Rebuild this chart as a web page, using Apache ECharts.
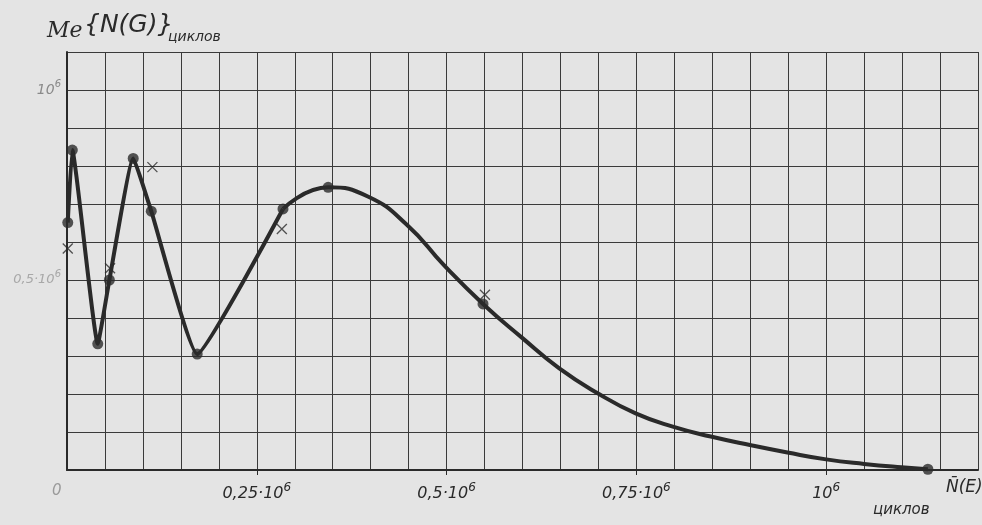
<!DOCTYPE html>
<html><head><meta charset="utf-8">
<script src="https://cdn.jsdelivr.net/npm/echarts@6/dist/echarts.min.js"></script>
<style>html,body{margin:0;padding:0;background:#e4e4e4;overflow:hidden;width:982px;height:525px;}#c{width:982px;height:525px;}</style>
</head><body><div id="c"></div>
<script>
// values in units of 10^6 cycles
const circleX = [0.001, 0.007, 0.0405, 0.0558, 0.0872, 0.111, 0.1715, 0.2845, 0.344, 0.548, 1.134];
const circleY = [0.651, 0.842, 0.332, 0.500, 0.820, 0.681, 0.305, 0.687, 0.744, 0.437, 0.002];
const crossX = [0.001, 0.0567, 0.1125, 0.283, 0.5505];
const crossY = [0.583, 0.531, 0.797, 0.634, 0.461];
// curve: steep zig-zag part, then smooth tail
const zigX = [0.001, 0.007, 0.0405, 0.0558, 0.0872, 0.111, 0.1715, 0.2845];
const zigY = [0.651, 0.842, 0.332, 0.500, 0.820, 0.681, 0.305, 0.687];
const tailX = [0.2845, 0.344, 0.397, 0.448, 0.4965, 0.548, 0.600, 0.648, 0.699, 0.749, 0.798, 0.848, 0.901, 0.949, 1.0, 1.05, 1.099, 1.134];
const tailY = [0.687, 0.744, 0.719, 0.645, 0.539, 0.437, 0.347, 0.268, 0.202, 0.149, 0.114, 0.088, 0.065, 0.046, 0.028, 0.016, 0.007, 0.002];
const xTickLabels = {25: '0,25·10', 50: '0,5·10', 75: '0,75·10', 100: '10'};
const yTickLabels = {50: '0,5·10', 100: '10'};

const zip = (a, b) => a.map((v, i) => [v, b[i]]);
const ink = '#2a2a2a';
const chart = echarts.init(document.getElementById('c'), null, {renderer: 'canvas', width: 982, height: 525});
chart.setOption({
  backgroundColor: '#e4e4e4',
  animation: false,
  grid: {left: 67, top: 52, right: 4, bottom: 55},
  xAxis: [
    {type: 'value', min: 0, max: 1.2, interval: 0.05,
     axisLine: {show: true, lineStyle: {color: ink, width: 2}},
     axisTick: {show: false}, axisLabel: {show: false},
     splitLine: {show: true, lineStyle: {color: '#3a3a3a', width: 1}}},
    {type: 'value', min: 0, max: 1.2, interval: 0.25, position: 'bottom',
     axisLine: {show: false},
     axisTick: {show: true, length: 5, lineStyle: {color: ink, width: 1}},
     splitLine: {show: false},
     axisLabel: {show: true, margin: 12, showMaxLabel: false, showMinLabel: false,
       formatter: v => { const k = Math.round(v * 100); const t = xTickLabels[k]; if (t === undefined) return ''; return '{n|' + t + '}{s|6}'; },
       rich: {n: {fontSize: 16, fontStyle: 'italic', color: '#2a2a2a', fontFamily: 'DejaVu Sans'},
              s: {fontSize: 12, fontStyle: 'italic', color: '#2a2a2a', fontFamily: 'DejaVu Sans', padding: [0, 0, 12, 0]}}}}
  ],
  yAxis: [
    {type: 'value', min: 0, max: 1.1, interval: 0.1,
     axisLine: {show: true, lineStyle: {color: ink, width: 2}},
     axisTick: {show: false}, axisLabel: {show: false},
     splitLine: {show: true, lineStyle: {color: '#3a3a3a', width: 1}}},
    {type: 'value', min: 0, max: 1.1, interval: 0.1, position: 'left',
     axisLine: {show: false}, axisTick: {show: false}, splitLine: {show: false},
     axisLabel: {show: true, margin: 6,
       formatter: v => { const k = Math.round(v * 100); const t = yTickLabels[k]; if (t === undefined) return ''; return k === 50 ? '{m|' + t + '}{ms|6}' : '{n|' + t + '}{s|6}'; },
       rich: {n: {fontSize: 14, fontStyle: 'italic', color: '#8a8a8a', fontFamily: 'DejaVu Sans'},
              s: {fontSize: 10, fontStyle: 'italic', color: '#8a8a8a', fontFamily: 'DejaVu Sans', padding: [0, 0, 11, 0]},
              m: {fontSize: 13, fontStyle: 'italic', color: '#a8a8a8', fontFamily: 'DejaVu Sans'},
              ms: {fontSize: 10, fontStyle: 'italic', color: '#a8a8a8', fontFamily: 'DejaVu Sans', padding: [0, 0, 11, 0]}}}}
  ],
  series: [
    {type: 'line', data: zip(zigX, zigY), showSymbol: false,
     smooth: 0.12, lineStyle: {color: ink, width: 4}, z: 2},
    {type: 'line', data: zip(tailX, tailY), showSymbol: false,
     smooth: 0.5, lineStyle: {color: ink, width: 4}, z: 2},
    {type: 'scatter', data: zip(circleX, circleY), symbol: 'circle', symbolSize: 11,
     itemStyle: {color: ink}, z: 3},
    {type: 'scatter', data: zip(crossX, crossY), symbol: 'path://M0,0L10,10M10,0L0,10', symbolSize: 10,
     itemStyle: {color: 'none', borderColor: ink, borderWidth: 1.3}, z: 4}
  ],
  graphic: [
    {type: 'text', left: 47, top: 20, style: {text: 'Me', font: 'italic 22px DejaVu Serif', fill: ink}},
    {type: 'text', left: 84, top: 13, style: {text: '{N(G)}', font: 'italic 25px DejaVu Sans', fill: ink}},
    {type: 'text', left: 168, top: 30, style: {text: 'циклов', font: 'italic 14px DejaVu Sans', fill: ink}},
    {type: 'text', left: 52, top: 484, style: {text: '0', font: 'italic 15px DejaVu Sans', fill: '#9a9a9a'}},
    {type: 'text', left: 946, top: 479, style: {text: 'N\u0304(E)', font: 'italic 17px DejaVu Sans', fill: ink}},
    {type: 'text', left: 873, top: 503, style: {text: 'циклов', font: 'italic 15px DejaVu Sans', fill: ink}}
  ]
});
</script></body></html>
